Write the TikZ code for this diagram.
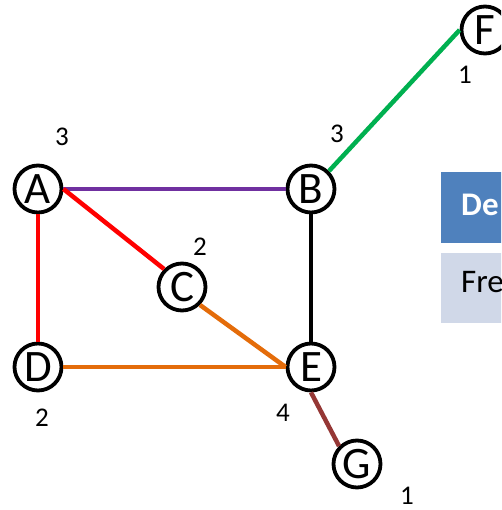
\documentclass[tikz,border=0pt]{standalone}
\usepackage{fontspec}
\setmainfont{Carlito}
\definecolor{epurple}{HTML}{7030A0}
\definecolor{ered}{HTML}{FF0000}
\definecolor{eorange}{HTML}{E46C0A}
\definecolor{ebrown}{HTML}{953735}
\definecolor{egreen}{HTML}{00B050}
\definecolor{hdrblue}{HTML}{4F81BD}
\definecolor{rowblue}{HTML}{D0D8E8}
\begin{document}
\begin{tikzpicture}[x=1pt,y=-1pt,
  vertex/.style={circle,draw=black,line width=3.8pt,minimum size=47pt,inner sep=0pt,fill=white,font=\fontsize{45}{45}\selectfont},
  deg/.style={font=\fontsize{27}{27}\selectfont,inner sep=0pt},
  edge/.style={line width=4.5pt},
  cell/.style={font=\fontsize{33}{33}\selectfont,inner sep=0pt,anchor=base west}]
\useasboundingbox (0,0) rectangle (501,510);
\clip (0,0) rectangle (501,510);
% table
\fill[hdrblue] (441,172) rectangle (520,243);
\fill[rowblue] (441,253) rectangle (520,323);
\node[cell,text=white,font=\fontsize{33}{33}\selectfont\bfseries] (th) at (461,215) {De};
\node[cell] (td) at (461,292) {Fre};
% vertices
\node[vertex] (A) at (38,189) {A};
\node[vertex] (B) at (311,189) {B};
\node[vertex] (C) at (182,287) {C};
\node[vertex] (D) at (38,367) {D};
\node[vertex] (E) at (311,367) {E};
\node[vertex] (F) at (485,30) {F};
\node[vertex] (G) at (357,464) {G};
% degrees
\node[deg] (dA) at (62,137) {3};
\node[deg] (dB) at (337,134) {3};
\node[deg] (dF) at (465,75) {1};
\node[deg] (dC) at (200,247) {2};
\node[deg] (dD) at (42,418) {2};
\node[deg] (dE) at (283,413) {4};
\node[deg] (dG) at (407,496) {1};
% edges
\draw[edge,epurple] (A.east) -- (B.west);
\draw[edge,ered] (A.east) -- (C.north west);
\draw[edge,ered] (A.south) -- (D.north);
\draw[edge,black] (B.south) -- (E.north);
\draw[edge,eorange] (C.south east) -- (E.west);
\draw[edge,eorange] (D.east) -- (E.west);
\draw[edge,ebrown] (E.south) -- (G.north west);
\draw[edge,egreen] (B.north east) -- (F.west);
\end{tikzpicture}
\end{document}
